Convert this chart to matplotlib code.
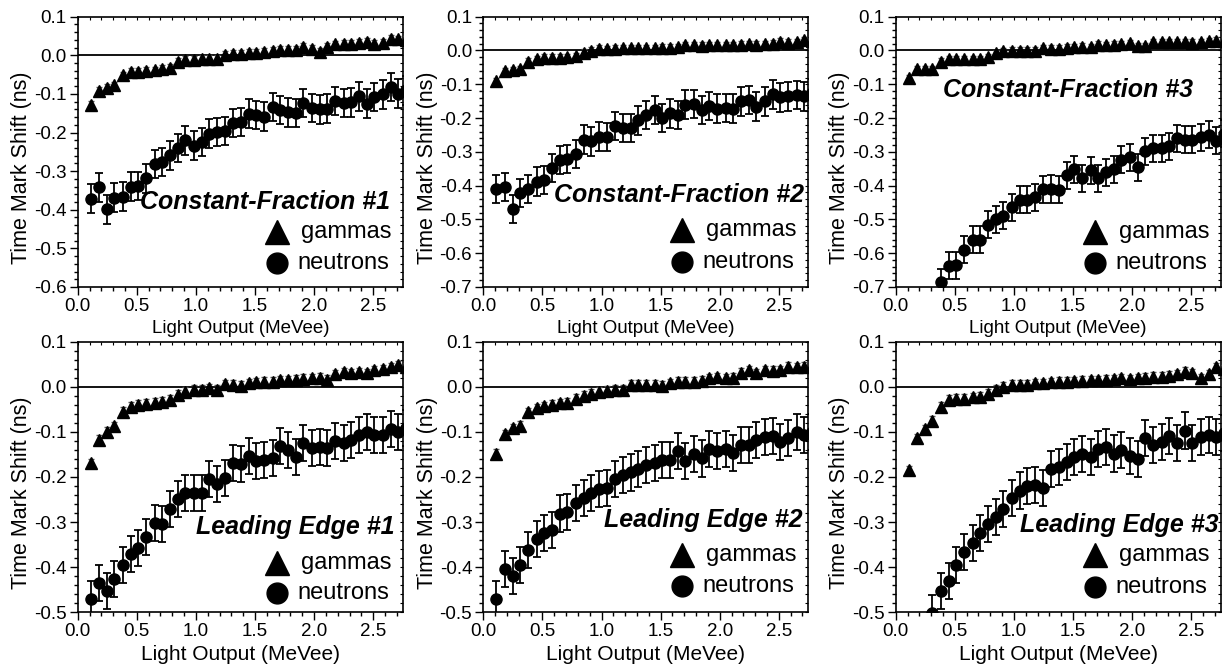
import matplotlib
matplotlib.use('Agg')
import matplotlib.pyplot as plt
import numpy as np
from matplotlib.ticker import MultipleLocator, FormatStrFormatter

plt.rcParams['font.family'] = ['Liberation Sans', 'DejaVu Sans']
plt.rcParams['axes.unicode_minus'] = False

nan = float('nan')

# Light output bin centres (MeVee)
light_output = [0.11, 0.18, 0.25, 0.31, 0.38, 0.45, 0.51, 0.58, 0.65, 0.71,
                0.78, 0.85, 0.91, 0.98, 1.05, 1.11, 1.18, 1.25, 1.31, 1.38,
                1.45, 1.51, 1.58, 1.65, 1.71, 1.78, 1.85, 1.91, 1.98, 2.05,
                2.11, 2.18, 2.25, 2.31, 2.38, 2.45, 2.51, 2.58, 2.65, 2.71, 2.78]

titles = ['Constant-Fraction #1', 'Constant-Fraction #2', 'Constant-Fraction #3',
          'Leading Edge #1', 'Leading Edge #2', 'Leading Edge #3']

# Constant-Fraction #1
cf1_gammas = [-0.128, -0.092, -0.084, -0.078, -0.052, -0.043, -0.043, -0.040, -0.039, -0.036,
              -0.033, -0.018, -0.013, -0.011, -0.010, -0.009, -0.009, 0.002, 0.003, 0.004,
              0.007, 0.007, 0.009, 0.011, 0.013, 0.015, 0.015, 0.022, 0.017, 0.009,
              0.022, 0.028, 0.030, 0.030, 0.032, 0.034, 0.030, 0.032, 0.043, 0.041, 0.040]
cf1_neutrons = [-0.371, -0.342, -0.399, -0.369, -0.366, -0.340, -0.338, -0.319, -0.282, -0.276,
                -0.259, -0.240, -0.220, -0.234, -0.224, -0.203, -0.199, -0.196, -0.175, -0.173,
                -0.151, -0.155, -0.159, -0.134, -0.142, -0.148, -0.149, -0.123, -0.137, -0.140,
                -0.138, -0.118, -0.123, -0.122, -0.106, -0.125, -0.108, -0.101, -0.082, -0.099, -0.091]

# Constant-Fraction #2
cf2_gammas = [-0.090, -0.062, -0.058, -0.056, -0.033, -0.025, -0.021, -0.021, -0.021, -0.020,
              -0.016, -0.006, -0.001, 0.005, 0.003, 0.005, 0.006, 0.006, 0.006, 0.007,
              0.006, 0.008, 0.008, 0.009, 0.015, 0.015, 0.014, 0.015, 0.016, 0.015,
              0.016, 0.017, 0.019, 0.017, 0.018, 0.020, 0.026, 0.023, 0.025, 0.031, 0.029]
cf2_neutrons = [-0.410, -0.404, -0.469, -0.422, -0.410, -0.388, -0.383, -0.348, -0.324, -0.322,
                -0.306, -0.264, -0.269, -0.255, -0.257, -0.223, -0.230, -0.230, -0.207, -0.191,
                -0.176, -0.200, -0.186, -0.191, -0.160, -0.158, -0.176, -0.164, -0.172, -0.171,
                -0.172, -0.151, -0.146, -0.166, -0.151, -0.130, -0.139, -0.136, -0.132, -0.136, -0.127]

# Constant-Fraction #3
cf3_gammas = [-0.082, -0.056, -0.055, -0.055, -0.033, -0.026, -0.026, -0.026, -0.025, -0.025,
              -0.020, -0.008, -0.003, -0.001, -0.001, -0.001, -0.001, 0.006, 0.005, 0.005,
              0.008, 0.010, 0.011, 0.010, 0.017, 0.015, 0.017, 0.018, 0.021, 0.013,
              0.013, 0.025, 0.024, 0.025, 0.024, 0.025, 0.023, 0.025, 0.027, 0.029, 0.029]
cf3_neutrons = [nan, nan, nan, nan, -0.686, -0.637, -0.636, -0.590, -0.560, -0.560,
                -0.516, -0.499, -0.489, -0.464, -0.442, -0.442, -0.434, -0.411, -0.410, -0.412,
                -0.370, -0.351, -0.378, -0.355, -0.378, -0.361, -0.351, -0.324, -0.316, -0.345,
                -0.299, -0.289, -0.289, -0.284, -0.260, -0.264, -0.264, -0.257, -0.250, -0.267, -0.247]

# Leading Edge #1
le1_gammas = [-0.170, -0.118, -0.100, -0.088, -0.055, -0.044, -0.040, -0.038, -0.035, -0.033,
              -0.029, -0.018, -0.011, -0.007, -0.007, -0.003, -0.007, 0.006, 0.004, 0.002,
              0.008, 0.010, 0.011, 0.011, 0.014, 0.015, 0.016, 0.018, 0.019, 0.020,
              0.016, 0.028, 0.032, 0.030, 0.032, 0.030, 0.037, 0.039, 0.043, 0.048, 0.043]
le1_neutrons = [-0.471, -0.436, -0.452, -0.427, -0.395, -0.371, -0.358, -0.334, -0.303, -0.305,
                -0.270, -0.248, -0.236, -0.235, -0.236, -0.205, -0.216, -0.203, -0.168, -0.171,
                -0.154, -0.164, -0.162, -0.157, -0.131, -0.140, -0.156, -0.125, -0.136, -0.133,
                -0.135, -0.120, -0.124, -0.118, -0.107, -0.100, -0.107, -0.107, -0.094, -0.100, -0.092]

# Leading Edge #2
le2_gammas = [-0.149, -0.105, -0.092, -0.086, -0.057, -0.048, -0.043, -0.040, -0.037, -0.035,
              -0.027, -0.020, -0.015, -0.011, -0.009, -0.007, -0.007, 0.004, 0.005, 0.004,
              0.004, 0.002, 0.008, 0.011, 0.011, 0.011, 0.013, 0.019, 0.021, 0.019,
              0.020, 0.031, 0.037, 0.030, 0.037, 0.036, 0.037, 0.044, 0.043, 0.044, 0.046]
le2_neutrons = [-0.471, -0.405, -0.420, -0.395, -0.362, -0.338, -0.325, -0.318, -0.281, -0.277,
                -0.258, -0.247, -0.235, -0.227, -0.225, -0.205, -0.196, -0.190, -0.183, -0.173,
                -0.170, -0.162, -0.162, -0.142, -0.164, -0.149, -0.159, -0.137, -0.142, -0.137,
                -0.146, -0.129, -0.129, -0.118, -0.112, -0.109, -0.122, -0.114, -0.100, -0.107, -0.100]

# Leading Edge #3
le3_gammas = [-0.185, -0.114, -0.094, -0.075, -0.044, -0.029, -0.026, -0.026, -0.023, -0.022,
              -0.015, -0.007, 0.000, 0.004, 0.005, 0.005, 0.008, 0.008, 0.010, 0.011,
              0.011, 0.012, 0.013, 0.015, 0.015, 0.016, 0.017, 0.019, 0.017, 0.019,
              0.020, 0.022, 0.022, 0.025, 0.028, 0.033, 0.030, 0.019, 0.028, 0.043, 0.039]
le3_neutrons = [nan, nan, nan, -0.501, -0.452, -0.430, -0.395, -0.366, -0.347, -0.324,
                -0.304, -0.289, -0.270, -0.247, -0.230, -0.221, -0.218, -0.225, -0.183, -0.177,
                -0.166, -0.155, -0.149, -0.155, -0.137, -0.134, -0.148, -0.140, -0.154, -0.161,
                -0.114, -0.129, -0.122, -0.109, -0.125, -0.097, -0.125, -0.112, -0.107, -0.112, -0.102]

gamma_err = [0.010, 0.010, 0.010, 0.010, 0.010, 0.010]
neutron_err = [0.037, 0.042, 0.040, 0.040, 0.040, 0.040]

gammas = [cf1_gammas, cf2_gammas, cf3_gammas, le1_gammas, le2_gammas, le3_gammas]
neutrons = [cf1_neutrons, cf2_neutrons, cf3_neutrons, le1_neutrons, le2_neutrons, le3_neutrons]
y_limits = [(-0.6, 0.1), (-0.7, 0.1), (-0.7, 0.1), (-0.5, 0.1), (-0.5, 0.1), (-0.5, 0.1)]
x_limits = (0.0, 2.75)

# layout (figure fractions / axes fractions)
lefts = [0.0633, 0.3936, 0.7294]
bottoms = [0.5704, 0.0834]
width, heights = 0.2647, [0.4046, 0.4051]
title_pos = [(0.962, 0.316), (0.988, 0.340), (0.915, 0.729),
             (0.976, 0.315), (0.982, 0.341), (0.992, 0.322)]
leg_pos = [(0.613, 0.2035, 0.089), (0.611, 0.211, 0.093), (0.613, 0.2035, 0.089),
           (0.613, 0.182, 0.071), (0.611, 0.212, 0.097), (0.613, 0.212, 0.094)]
xlabel_size = [13.5, 13.5, 13.5, 15, 15, 15]

fig = plt.figure(figsize=(12.28, 6.68), dpi=100)

for i in range(6):
    row, col = divmod(i, 3)
    ax = fig.add_axes([lefts[col], bottoms[row], width, heights[row]])
    x = np.array(light_output)
    ax.axhline(0.0, color='black', lw=1.3, zorder=1)
    ax.errorbar(x, gammas[i], yerr=gamma_err[i], fmt='^', color='black', ms=9,
                ecolor='#555555', elinewidth=1.0, capsize=2, capthick=1.0, zorder=3, clip_on=True)
    ax.errorbar(x, neutrons[i], yerr=neutron_err[i], fmt='o', color='black', ms=8,
                ecolor='black', elinewidth=1.3, capsize=3, capthick=1.3, zorder=3, clip_on=True)
    ax.set_xlim(*x_limits)
    ax.set_ylim(*y_limits[i])
    ax.xaxis.set_major_locator(MultipleLocator(0.5))
    ax.xaxis.set_minor_locator(MultipleLocator(0.1))
    ax.yaxis.set_major_locator(MultipleLocator(0.1))
    ax.yaxis.set_minor_locator(MultipleLocator(0.02))
    ax.xaxis.set_major_formatter(FormatStrFormatter('%.1f'))
    ax.yaxis.set_major_formatter(FormatStrFormatter('%.1f'))
    ax.tick_params(which='both', direction='out', top=False, right=False,
                   labelsize=13.5, width=1.0, pad=2.5)
    ax.tick_params(which='major', length=5.5)
    ax.tick_params(which='minor', length=3)
    # mirrored small ticks on top/right
    secx = ax.secondary_xaxis('top')
    secx.xaxis.set_major_locator(MultipleLocator(0.1))
    secx.tick_params(direction='in', length=2.5, width=0.8, labeltop=False)
    secx.spines['top'].set_visible(False)
    secy = ax.secondary_yaxis('right')
    secy.yaxis.set_major_locator(MultipleLocator(0.02))
    secy.tick_params(direction='in', length=2.5, width=0.8, labelright=False)
    secy.spines['right'].set_visible(False)
    for s in ax.spines.values():
        s.set_linewidth(1.2)

    ax.set_xlabel('Light Output (MeVee)', fontsize=xlabel_size[i], va='center')
    ax.xaxis.set_label_coords(0.5, -42 / 270.3)
    ax.set_ylabel('Time Mark Shift (ns)', fontsize=15.5, va='center', ha='center')
    ax.yaxis.set_label_coords(-56 / 325.0, 0.44)

    tx, ty = title_pos[i]
    ax.text(tx, ty, titles[i], transform=ax.transAxes, ha='right', va='center',
            fontsize=18, fontweight='bold', fontstyle='italic', zorder=5)
    lx, gy, ny = leg_pos[i]
    ax.plot([lx], [gy], marker='^', ms=17, color='black', ls='none',
            transform=ax.transAxes, clip_on=False, zorder=5)
    ax.plot([lx], [ny], marker='o', ms=15, color='black', ls='none',
            transform=ax.transAxes, clip_on=False, zorder=5)
    ax.text(lx + 0.075, gy, 'gammas', transform=ax.transAxes, ha='left', va='center',
            fontsize=17, zorder=5)
    ax.text(lx + 0.062, ny, 'neutrons', transform=ax.transAxes, ha='left', va='center',
            fontsize=17, zorder=5)

fig.savefig('out.png', dpi=100)
